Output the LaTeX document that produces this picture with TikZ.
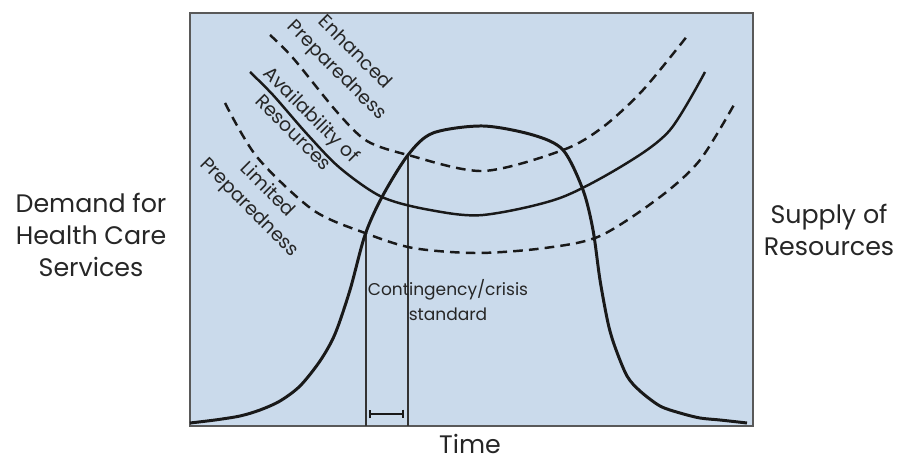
\documentclass[tikz,border=0pt]{standalone}
\usepackage{fontspec}
\setmainfont{Poppins}
\usetikzlibrary{positioning,arrows.meta}
\definecolor{boxblue}{RGB}{202,218,235}

\begin{document}
\begin{tikzpicture}
		[x=0.2mm,y=-0.2mm,
		every node/.style={text=black!85,inner sep=0pt},
		side/.style={font=\fontsize{14.4}{18}\selectfont,align=center},
		tag/.style={font=\fontsize{10.8}{14.5}\selectfont,align=center,rotate=-45},
		demand/.style={line width=1.7pt,black!90},
		supply/.style={line width=1.4pt,black!90},
		prep/.style={supply,dash pattern=on 5.5pt off 3.5pt},
		limit line/.style={line width=0.6pt,black!80}]
		\useasboundingbox (0,0) rectangle (898,460);
		\coordinate (box nw) at (190,13);
		\coordinate (box se) at (753,426);
		\draw[fill=boxblue,draw=black!65,line width=0.9pt] (box nw) rectangle (box se);
		\coordinate (start) at (366,233);
		\coordinate (crisis) at (408,155);
		\draw[limit line] (start) -- (start |- box se);
		\draw[limit line] (crisis) -- (crisis |- box se);
		\coordinate (bar l) at (369,414);
		\coordinate (bar r) at (404,414);
		\draw[line width=1.2pt,black!90,{Bar[width=5pt]}-{Bar[width=5pt]}] (bar l) -- (bar r);
		\draw[prep] plot[smooth] coordinates {(270,35) (293,58) (337,112) (367,141) (408,155) (483,171) (563,150) (603,127) (643,90) (688,35)};
		\draw[supply] plot[smooth] coordinates {(250,72) (273,95) (307,134) (340,168) (382,197) (430,210) (483,215) (560,198) (627,163) (670,130) (705,72)};
		\draw[prep] plot[smooth] coordinates {(225,103) (257,157) (313,210) (365,233) (413,248) (477,253) (545,248) (600,236) (660,197) (700,160) (735,103)};
		\draw[demand] plot[smooth] coordinates {(190,423) (215,420) (240,416) (260,410) (280,401) (300,386) (320,361) (335,334) (350,290) (365,235) (382,197) (408,155) (433,133) (483,126) (533,135) (563,150) (583,190) (593,230) (600,280) (608,323) (615,347) (627,376) (640,391) (660,406) (680,413) (700,418) (720,420) (747,423)};
		\node[tag] (enhanced) at (345,62) {Enhanced\\Preparedness};
		\node[tag] (avail) at (303,123) {Availability of\\Resources};
		\node[tag] (limited) at (258,199) {Limited\\Preparedness};
		\node[side] (demand) at (91,235) {Demand for\\Health Care\\Services};
		\node[side] (supply) at (829,230) {Supply of\\Resources};
		\node[side] (time) at (470,444) {Time};
		\node[font=\fontsize{9.7}{14.2}\selectfont,align=center] (standard) at (448,300) {Contingency/crisis\\standard};
\end{tikzpicture}
\end{document}
